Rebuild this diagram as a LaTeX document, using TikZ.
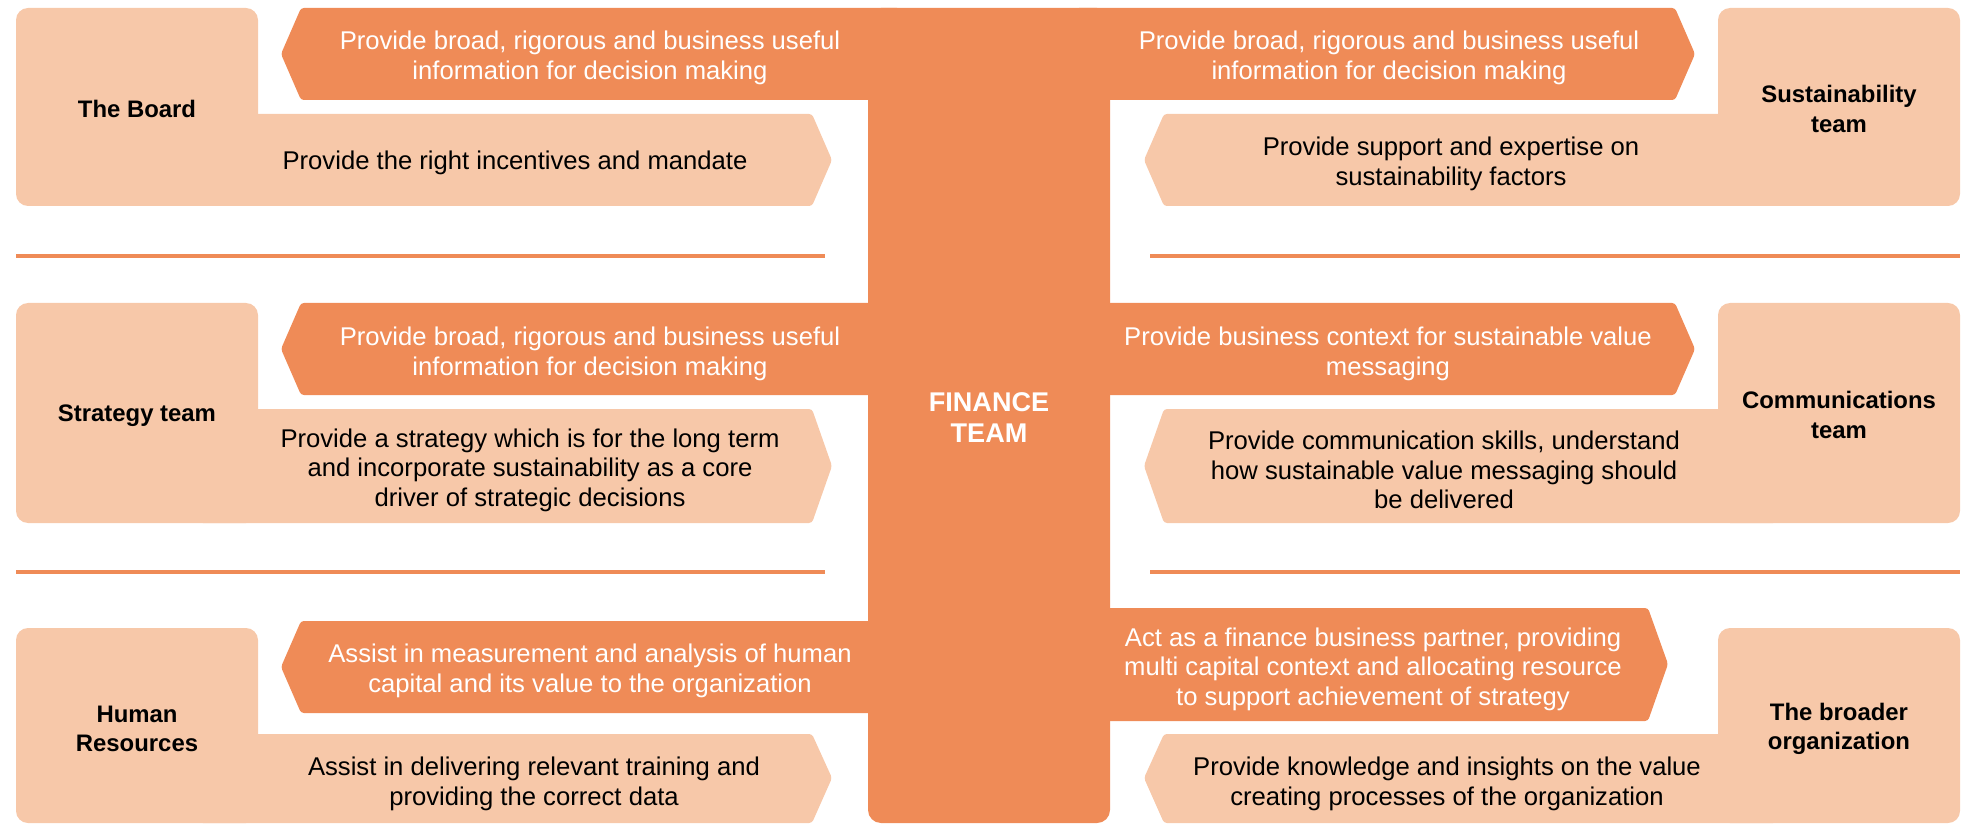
\documentclass[tikz,border=0pt]{standalone}
\usepackage{fontspec}
\setmainfont{Liberation Sans}
\usepackage{tikz}
\definecolor{fdark}{RGB}{239,139,87}
\definecolor{flight}{RGB}{247,200,169}

\begin{document}
\begin{tikzpicture}[x=0.02cm,y=-0.02cm,
		txt/.style={align=center,inner sep=0pt,font=\fontsize{14.6}{16.8}\selectfont},
		dtxt/.style={txt,text=white},
		ltxt/.style={txt,text=black},
		lab/.style={align=center,inner sep=0pt,font=\fontsize{13.6}{16.8}\selectfont\bfseries},
		sep/.style={fdark,line width=1.8pt}]
		\useasboundingbox (0,0) rectangle (1965,824);
		%
		\fill[fdark,rounded corners=0.26cm] (868,8) rectangle (1110,823);
		\fill[fdark,rounded corners=0.06cm] (900,8) -- (301,8) -- (281,54) -- (301,100) -- (900,100) -- cycle;
		\fill[fdark,rounded corners=0.06cm] (900,303) -- (301,303) -- (281,349) -- (301,395) -- (900,395) -- cycle;
		\fill[fdark,rounded corners=0.06cm] (900,621) -- (301,621) -- (281,667) -- (301,713) -- (900,713) -- cycle;
		\fill[fdark,rounded corners=0.06cm] (1076,8) -- (1675,8) -- (1695,54) -- (1675,100) -- (1076,100) -- cycle;
		\fill[fdark,rounded corners=0.06cm] (1076,303) -- (1675,303) -- (1695,349) -- (1675,395) -- (1076,395) -- cycle;
		\fill[fdark,rounded corners=0.06cm] (1076,608) -- (1648,608) -- (1668,664) -- (1648,721) -- (1076,721) -- cycle;
		%
		\fill[flight,rounded corners=0.24cm] (16,8) rectangle (258,206);
		\fill[flight,rounded corners=0.24cm] (16,303) rectangle (258,523);
		\fill[flight,rounded corners=0.24cm] (16,628) rectangle (258,823);
		\fill[flight,rounded corners=0.24cm] (1718,8) rectangle (1960,206);
		\fill[flight,rounded corners=0.24cm] (1718,303) rectangle (1960,523);
		\fill[flight,rounded corners=0.24cm] (1718,628) rectangle (1960,823);
		\fill[flight,rounded corners=0.06cm] (200,114) -- (812,114) -- (832,160) -- (812,206) -- (200,206) -- cycle;
		\fill[flight,rounded corners=0.06cm] (200,409) -- (812,409) -- (832,466) -- (812,523) -- (200,523) -- cycle;
		\fill[flight,rounded corners=0.06cm] (200,734) -- (812,734) -- (832,778) -- (812,823) -- (200,823) -- cycle;
		\fill[flight,rounded corners=0.06cm] (1776,114) -- (1164,114) -- (1144,160) -- (1164,206) -- (1776,206) -- cycle;
		\fill[flight,rounded corners=0.06cm] (1776,409) -- (1164,409) -- (1144,466) -- (1164,523) -- (1776,523) -- cycle;
		\fill[flight,rounded corners=0.06cm] (1776,734) -- (1164,734) -- (1144,778) -- (1164,823) -- (1776,823) -- cycle;
		%
		\draw[sep] (16,256) -- (825,256);
		\draw[sep] (1150,256) -- (1960,256);
		\draw[sep] (16,572) -- (825,572);
		\draw[sep] (1150,572) -- (1960,572);
		%
		\node[txt,text=white,font=\fontsize{15.4}{17.6}\selectfont\bfseries] (F) at (989,418) {FINANCE\\TEAM};
		%
		\node[lab] (B) at (137,109) {The Board};
		\node[lab] (S) at (137,416) {Strategy team};
		\node[lab] (H) at (137,729) {Human\\Resources};
		\node[lab] (B') at (1839,109) {Sustainability\\team};
		\node[lab] (S') at (1839,415) {Communications\\team};
		\node[lab] (H') at (1839,729) {The broader\\organization};
		%
		\node[dtxt] (Bd) at (590,58) {Provide broad, rigorous and business useful\\information for decision making};
		\node[ltxt] (Bl) at (515,163) {Provide the right incentives and mandate};
		\node[dtxt] (Sd) at (590,354) {Provide broad, rigorous and business useful\\information for decision making};
		\node[ltxt] (Sl) at (530,470) {Provide a strategy which is for the long term\\and incorporate sustainability as a core\\driver of strategic decisions};
		\node[dtxt] (Hd) at (590,671) {Assist in measurement and analysis of human\\capital and its value to the organization};
		\node[ltxt] (Hl) at (534,784) {Assist in delivering relevant training and\\providing the correct data};
		%
		\node[dtxt] (B'd) at (1389,58) {Provide broad, rigorous and business useful\\information for decision making};
		\node[ltxt] (B'l) at (1451,164) {Provide support and expertise on\\sustainability factors};
		\node[dtxt] (S'd) at (1388,354) {Provide business context for sustainable value\\messaging};
		\node[ltxt] (S'l) at (1444,470) {Provide communication skills, understand\\how sustainable value messaging should\\be delivered};
		\node[dtxt] (H'd) at (1373,669) {Act as a finance business partner, providing\\multi capital context and allocating resource\\to support achievement of strategy};
		\node[ltxt] (H'l) at (1447,784) {Provide knowledge and insights on the value\\creating processes of the organization};
\end{tikzpicture}
\end{document}
